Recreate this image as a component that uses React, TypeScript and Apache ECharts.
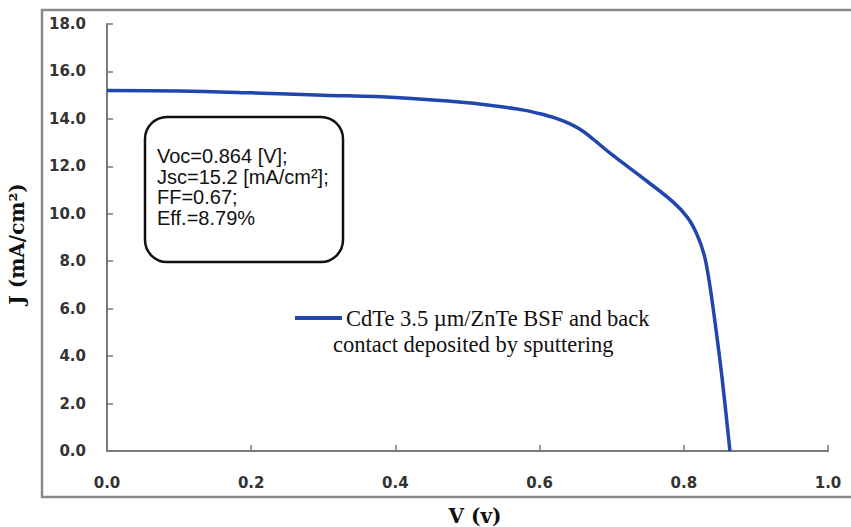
import React, { useEffect, useRef } from "react";
import * as echarts from "echarts";

const voltage = [0, 0.1, 0.2, 0.3, 0.4, 0.5, 0.55, 0.58, 0.6, 0.62, 0.64, 0.655, 0.67, 0.7, 0.75, 0.785, 0.805, 0.818, 0.828, 0.835, 0.843, 0.853, 0.864];
const current = [15.2, 15.18, 15.1, 15.0, 14.9, 14.68, 14.5, 14.36, 14.22, 14.05, 13.82, 13.58, 13.25, 12.5, 11.35, 10.5, 9.85, 9.15, 8.3, 7.2, 5.5, 3.1, 0];
const xTicks = [0, 0.2, 0.4, 0.6, 0.8, 1.0];
const yTicks = [0, 2, 4, 6, 8, 10, 12, 14, 16, 18];
const annotationLines = ["Voc=0.864 [V];", "Jsc=15.2 [mA/cm²];", "FF=0.67;", "Eff.=8.79%"];
const legendLines = ["CdTe 3.5 µm/ZnTe BSF and back", "contact deposited by sputtering"];

export default function App() {
  const ref = useRef<HTMLDivElement>(null);
  useEffect(() => {
    if (!ref.current) return;
    const chart = echarts.init(ref.current, null, { renderer: "svg" });
    const lineColor = "#2146ad";
    const axisColor = "#7a7a7a";
    chart.setOption({
      animation: false,
      backgroundColor: "#ffffff",
      grid: { left: 107, right: 23, top: 24, bottom: 76, containLabel: false },
      xAxis: {
        type: "value",
        min: xTicks[0],
        max: xTicks[xTicks.length - 1],
        interval: 0.2,
        axisLine: { show: true, lineStyle: { color: axisColor, width: 2 } },
        axisTick: { show: true, inside: true, length: 6, lineStyle: { color: axisColor, width: 1.5 } },
        splitLine: { show: false },
        axisLabel: {
          margin: 24,
          formatter: (v: number) => v.toFixed(1),
          fontFamily: "DejaVu Sans",
          fontSize: 15,
          fontWeight: "bold",
          color: "#333",
        },
      },
      yAxis: {
        type: "value",
        min: yTicks[0],
        max: yTicks[yTicks.length - 1],
        interval: 2,
        axisLine: { show: true, lineStyle: { color: axisColor, width: 2 } },
        axisTick: { show: true, inside: true, length: 6, lineStyle: { color: axisColor, width: 1.5 } },
        splitLine: { show: false },
        axisLabel: {
          margin: 21,
          formatter: (v: number) => v.toFixed(1),
          fontFamily: "DejaVu Sans",
          fontSize: 15,
          fontWeight: "bold",
          color: "#333",
        },
      },
      series: [
        {
          type: "line",
          data: voltage.map((v, i) => [v, current[i]]),
          smooth: 0.35,
          showSymbol: false,
          lineStyle: { color: lineColor, width: 3.5 },
          z: 3,
        },
      ],
      graphic: [
        {
          type: "rect",
          shape: { x: 42, y: 10, width: 830, height: 487 },
          style: { fill: "none", stroke: "#8a8a8a", lineWidth: 2.5 },
          silent: true,
          z: 1,
        },
        {
          type: "rect",
          shape: { x: 145, y: 117, width: 198, height: 145, r: 22 },
          style: { fill: "#ffffff", stroke: "#111", lineWidth: 2.5 },
          z: 5,
        },
        {
          type: "text",
          x: 157,
          y: 146,
          style: {
            text: annotationLines.join("\n"),
            fontFamily: "Liberation Sans",
            fontSize: 20,
            lineHeight: 20.5,
            fill: "#111",
            textVerticalAlign: "top",
          },
          z: 6,
        },
        {
          type: "line",
          shape: { x1: 295, y1: 318, x2: 342, y2: 318 },
          style: { stroke: lineColor, lineWidth: 4 },
          z: 5,
        },
        {
          type: "text",
          x: 346,
          y: 318,
          style: {
            text: legendLines[0],
            fontFamily: "Liberation Serif",
            fontSize: 22.5,
            fill: "#111",
            textVerticalAlign: "middle",
          },
          z: 5,
        },
        {
          type: "text",
          x: 333,
          y: 344,
          style: {
            text: legendLines[1],
            fontFamily: "Liberation Serif",
            fontSize: 22.5,
            fill: "#111",
            textVerticalAlign: "middle",
          },
          z: 5,
        },
        {
          type: "text",
          x: 17,
          y: 244,
          rotation: Math.PI / 2,
          style: {
            text: "J (mA/cm²)",
            fontFamily: "DejaVu Serif",
            fontWeight: "bold",
            fontSize: 20,
            fill: "#111",
            textAlign: "center",
            textVerticalAlign: "middle",
          },
          z: 5,
        },
        {
          type: "text",
          x: 475,
          y: 516,
          style: {
            text: "V (v)",
            fontFamily: "DejaVu Serif",
            fontWeight: "bold",
            fontSize: 20,
            fill: "#111",
            textAlign: "center",
            textVerticalAlign: "middle",
          },
          z: 5,
        },
      ],
    });
    return () => chart.dispose();
  }, []);
  return (
    <div
      ref={ref}
      style={{ position: "absolute", left: 0, top: 0, width: 851, height: 527 }}
    />
  );
}
